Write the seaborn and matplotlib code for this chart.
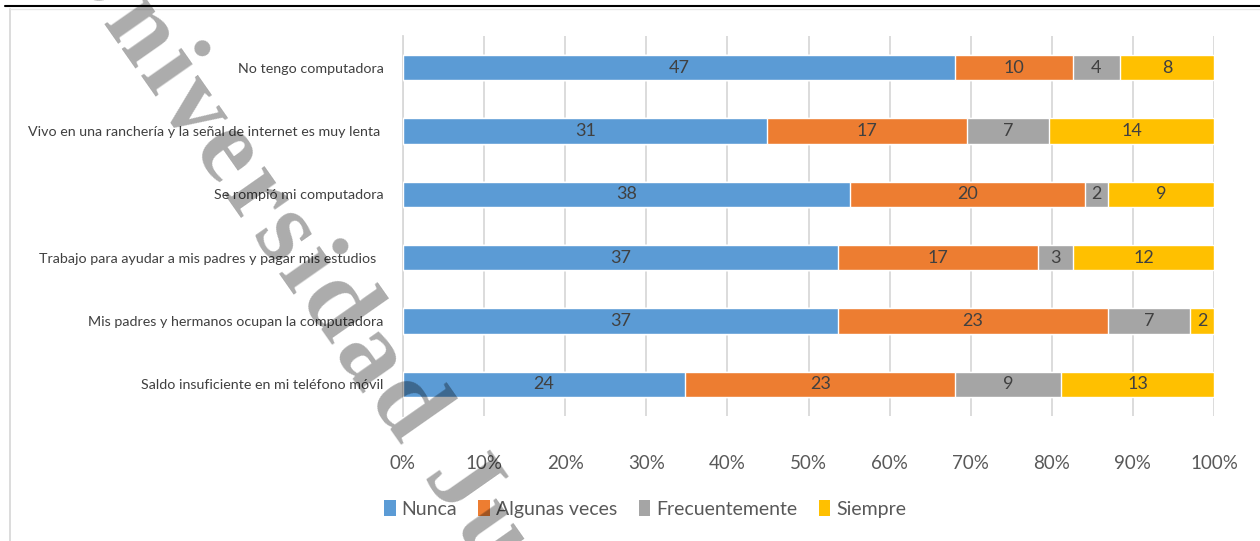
import numpy as np
import pandas as pd
import matplotlib
matplotlib.use("Agg")
from matplotlib import pyplot as plt
from matplotlib.patches import Patch
from matplotlib.lines import Line2D
from matplotlib.font_manager import FontProperties
from matplotlib.textpath import TextToPath
import seaborn as sns

# data
reasons = [
    "No tengo computadora",
    "Vivo en una ranchería y la señal de internet es muy lenta ",
    "Se rompió mi computadora",
    "Trabajo para ayudar a mis padres y pagar mis estudios  ",
    "Mis padres y hermanos ocupan la computadora",
    "Saldo insuficiente en mi teléfono móvil",
]
levels = ["Nunca", "Algunas veces", "Frecuentemente", "Siempre"]
nunca = [47, 31, 38, 37, 37, 24]
algunas = [10, 17, 20, 17, 23, 23]
frecuente = [4, 7, 2, 3, 7, 9]
siempre = [8, 14, 9, 12, 2, 13]
colors = ["#5B9BD5", "#ED7D31", "#A5A5A5", "#FFC000"]

watermark = "Universidad Juárez"


def draw_watermark(fig, start=(54, -44), angle=55, track=5, size=76):
    # letter-spaced diagonal text, one glyph at a time
    fp = FontProperties(family="Liberation Serif", weight="bold", size=size)
    ttp = TextToPath()
    a = np.deg2rad(angle)
    W, H = fig.get_size_inches() * fig.dpi
    pos = 0.0
    for ch in watermark:
        w, h, d = ttp.get_text_width_height_descent(ch, fp, ismath=False)
        w = w * fig.dpi / 72
        if ch == " ":
            w = max(w, 0.25 * size * fig.dpi / 72)
        px = start[0] + pos * np.cos(a)
        py = start[1] + pos * np.sin(a)
        fig.text(px / W, 1 - py / H, ch, fontproperties=fp, color="black", alpha=0.33,
                 rotation=-angle, rotation_mode="anchor", ha="left", va="baseline", zorder=10)
        pos += w + track


def main():
    sns.set_style("white")
    plt.rcParams["font.family"] = ["Lato", "DejaVu Sans"]

    counts = pd.DataFrame({"Nunca": nunca, "Algunas veces": algunas,
                           "Frecuentemente": frecuente, "Siempre": siempre},
                          index=reasons)
    pct = counts.div(counts.sum(axis=1), axis=0) * 100
    cum = pct.cumsum(axis=1)

    fig = plt.figure(figsize=(12.6, 5.41), dpi=100)
    ax = fig.add_axes([403 / 1260, 1 - 416 / 541, 811 / 1260, 380 / 541])

    # stacked bars: draw cumulative totals from the longest down
    for lev, col in reversed(list(zip(levels, colors))):
        d = pd.DataFrame({"reason": reasons, "value": cum[lev].values})
        sns.barplot(data=d, x="value", y="reason", order=reasons, color=col,
                    width=0.4, orient="h", saturation=1, ax=ax, zorder=3)

    for i, r in enumerate(reasons):
        for lev in levels:
            mid = cum.loc[r, lev] - pct.loc[r, lev] / 2
            ax.text(mid, i, str(counts.loc[r, lev]), ha="center", va="center",
                    fontsize=13, color="#404040", zorder=4)

    ax.set_xlim(0, 100)
    ax.set_ylim(5.5, -0.5)
    ax.set_xticks(np.arange(0, 101, 10))
    ax.set_xticklabels([f"{t}%" for t in range(0, 101, 10)])
    ax.grid(axis="x", color="#D9D9D9", linewidth=1.3, zorder=0)
    for s in ["top", "right", "bottom"]:
        ax.spines[s].set_visible(False)
    ax.spines["left"].set_color("#D9D9D9")
    ax.spines["left"].set_linewidth(1.3)
    ax.tick_params(axis="x", length=0, pad=28, labelsize=13.5, labelcolor="#595959")
    ax.tick_params(axis="y", length=0, pad=14, labelsize=10.3, labelcolor="#404040")
    ax.set_xlabel("")
    ax.set_ylabel("")

    handles = [Patch(facecolor=c, edgecolor="none") for c in colors]
    fig.legend(handles, levels, loc="center", bbox_to_anchor=(645 / 1260, 1 - 509 / 541),
               ncol=4, frameon=False, fontsize=14, handlelength=0.6, handleheight=0.9,
               handletextpad=0.3, columnspacing=1.1, labelcolor="#595959")

    # page rule and chart border
    fig.add_artist(Line2D([5 / 1260, 1], [1 - 6 / 541] * 2, color="black", linewidth=1.5))
    fig.add_artist(Line2D([10 / 1260, 10 / 1260], [0, 1 - 9 / 541], color="#D9D9D9", linewidth=1.3))
    fig.add_artist(Line2D([10 / 1260, 1], [1 - 9 / 541] * 2, color="#E6E6E6", linewidth=1.0))

    draw_watermark(fig)

    fig.savefig("out.png", dpi=100)


if __name__ == "__main__":
    main()
